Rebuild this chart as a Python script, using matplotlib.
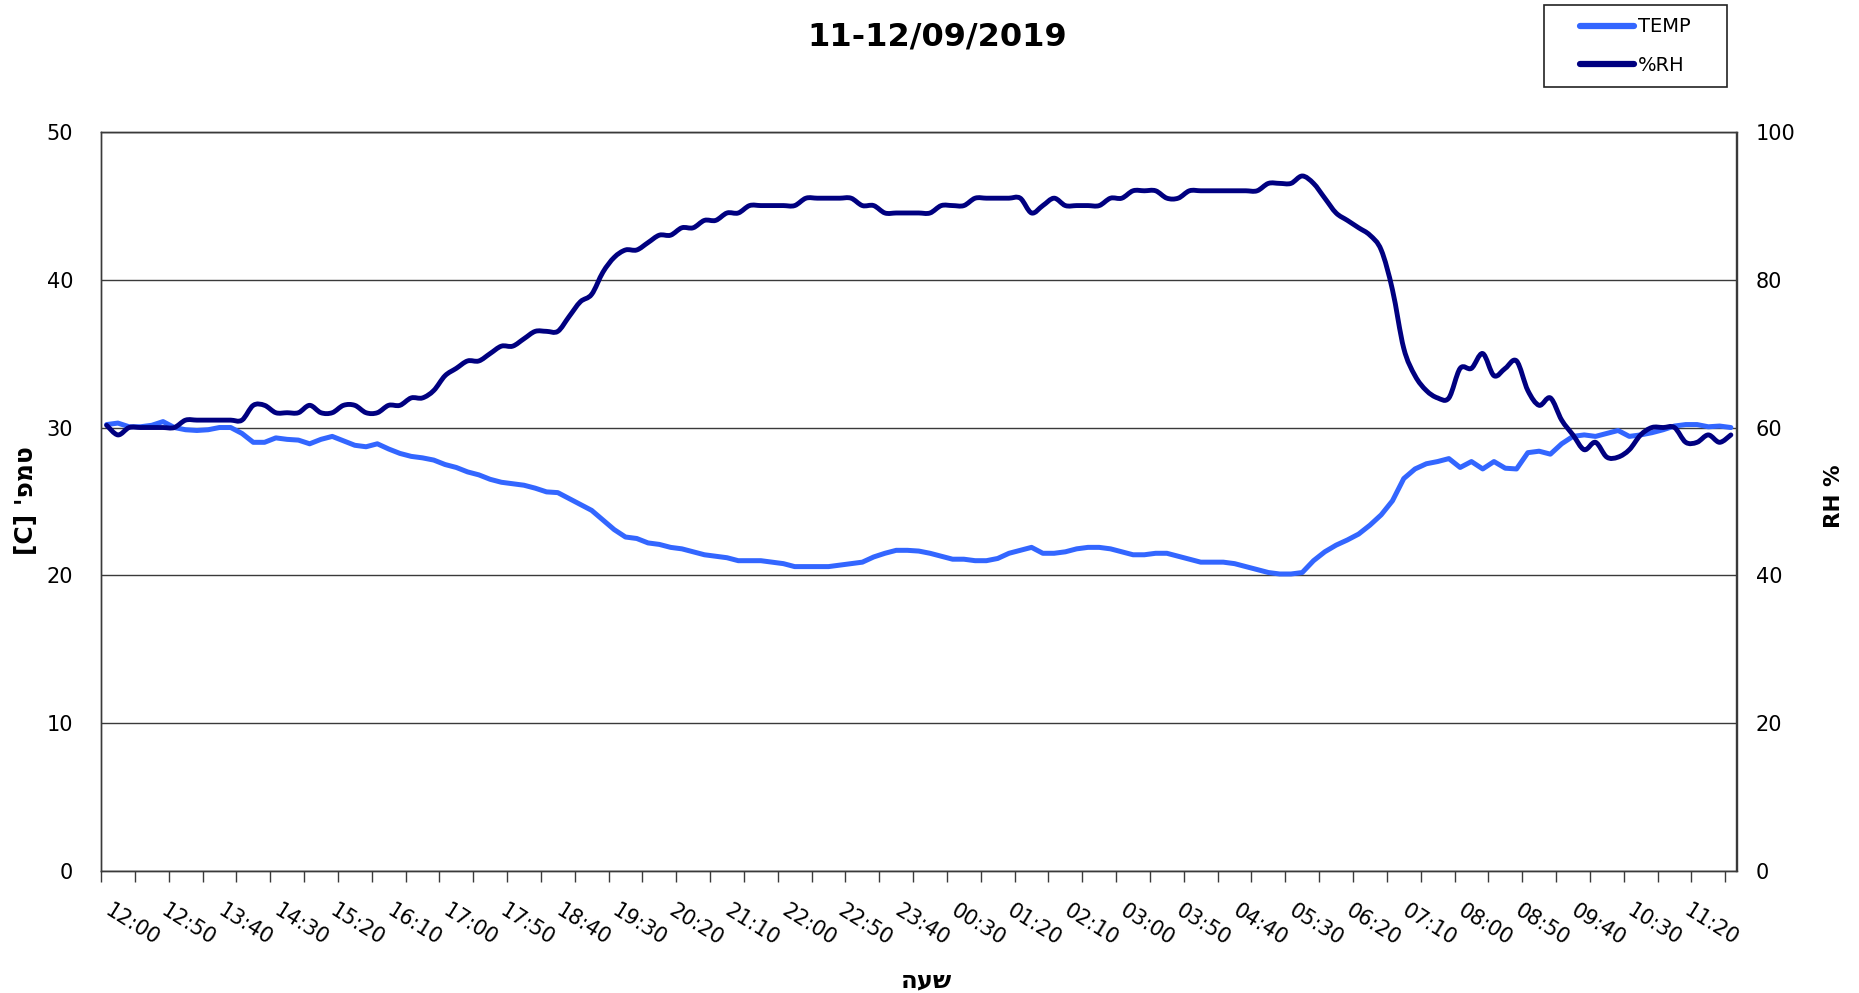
import numpy as np
import matplotlib
matplotlib.use("Agg")
import matplotlib.pyplot as plt
from matplotlib.path import Path
from matplotlib.patches import PathPatch, Rectangle
from matplotlib.lines import Line2D

plt.rcParams['font.family'] = ['DejaVu Sans']

# ---------------- data (10-minute readings, 11/09 12:00 -> 12/09 12:00) ----------------
start_minutes = 12 * 60
step_minutes = 10
n_points = 145
times = [f"{((start_minutes + step_minutes * i) // 60) % 24:02d}:{(start_minutes + step_minutes * i) % 60:02d}"
         for i in range(n_points)]

temp = [30.2, 30.3, 30.05, 30.05, 30.15, 30.4, 30.0, 29.85, 29.8, 29.85,
        30.0, 30.0, 29.6, 29.0, 29.0, 29.3, 29.2, 29.15, 28.9, 29.2,
        29.4, 29.1, 28.8, 28.7, 28.9, 28.55, 28.25, 28.05, 27.95, 27.8,
        27.5, 27.3, 27.0, 26.8, 26.5, 26.3, 26.2,
        26.1, 25.9, 25.65, 25.6, 25.2, 24.8, 24.4, 23.75, 23.1, 22.6,
        22.5, 22.2, 22.1, 21.9, 21.8, 21.6, 21.4, 21.3, 21.2, 21.0,
        21.0, 21.0, 20.9, 20.8, 20.6, 20.6, 20.6, 20.6, 20.7, 20.8,
        20.9, 21.25, 21.5, 21.7, 21.7, 21.65,
        21.5, 21.3, 21.1, 21.1, 21.0, 21.0, 21.15, 21.5, 21.7, 21.9,
        21.5, 21.5, 21.6, 21.8, 21.9, 21.9, 21.8, 21.6, 21.4, 21.4,
        21.5, 21.5, 21.3, 21.1, 20.9, 20.9, 20.9, 20.8, 20.6, 20.4,
        20.2, 20.1, 20.1, 20.2, 21.0,
        21.6, 22.05, 22.4, 22.8, 23.4, 24.1, 25.05, 26.55, 27.2, 27.55,
        27.7, 27.9, 27.3, 27.7, 27.2, 27.7, 27.25, 27.2, 28.3, 28.4,
        28.2, 28.9, 29.4, 29.5, 29.4, 29.6, 29.8, 29.4, 29.5, 29.65,
        29.85, 30.1, 30.2, 30.2, 30.05, 30.1, 30.0]

rh = [60.3, 59, 60, 60, 60, 60, 60, 61, 61, 61,
      61, 61, 61, 63, 63, 62, 62, 62, 63, 62,
      62, 63, 63, 62, 62, 63, 63, 64, 64, 65,
      67, 68, 69, 69, 70, 71, 71,
      72, 73, 73, 73, 75, 77, 78, 81, 83, 84,
      84, 85, 86, 86, 87, 87, 88, 88, 89, 89,
      90, 90, 90, 90, 90, 91, 91, 91, 91, 91,
      90, 90, 89, 89, 89, 89,
      89, 90, 90, 90, 91, 91, 91, 91, 91, 89,
      90, 91, 90, 90, 90, 90, 91, 91, 92, 92,
      92, 91, 91, 92, 92, 92, 92, 92, 92, 92,
      93, 93, 93, 94, 93,
      91, 89, 88, 87, 86, 84, 78.6, 70.7, 67, 65,
      64, 64, 68, 68, 70, 67, 68, 69, 65, 63,
      64, 61, 59, 57, 58, 56, 56, 57, 59, 60,
      60, 60, 58, 58, 59, 58, 59]

title = "11-12/09/2019"
temp_label = "TEMP"
rh_label = "%RH"
y_left_label = "[C] 'פמט"      # "טמפ' [C]" in visual (left-to-right) order
y_right_label = "RH %"
x_label = "העש"                # "שעה" in visual order

temp_ticks = [0, 10, 20, 30, 40, 50]
rh_ticks = [0, 20, 40, 60, 80, 100]

TEMP_COLOR = "#3366FF"
RH_COLOR = "#000080"
GRID_COLOR = "#3a3a3a"

# ---------------- figure ----------------
W, H = 1859, 993
fig = plt.figure(figsize=(W / 100, H / 100), dpi=100)
ax = fig.add_axes([101 / W, 1 - 871.4 / H, 1635.5 / W, 739.8 / H])
ax2 = ax.twinx()

x = np.arange(len(temp))
ax.plot(x, temp, color=TEMP_COLOR, lw=3.6, solid_joinstyle='round',
        solid_capstyle='round', zorder=3)

# smoothed RH line (cubic Bezier through every reading, like a spreadsheet "smoothed line")
xr = np.arange(len(rh), dtype=float)
yr = np.asarray(rh, dtype=float)
verts = [(xr[0], yr[0])]
codes = [Path.MOVETO]
n = len(xr)
for i in range(n - 1):
    p0 = i - 1 if i > 0 else 0
    p3 = i + 2 if i + 2 < n else n - 1
    c1 = (xr[i] + (xr[i + 1] - xr[p0]) / 6, yr[i] + (yr[i + 1] - yr[p0]) / 6)
    c2 = (xr[i + 1] - (xr[p3] - xr[i]) / 6, yr[i + 1] - (yr[p3] - yr[i]) / 6)
    verts += [c1, c2, (xr[i + 1], yr[i + 1])]
    codes += [Path.CURVE4, Path.CURVE4, Path.CURVE4]
ax2.add_patch(PathPatch(Path(verts, codes), fill=False, edgecolor=RH_COLOR,
                        lw=3.5, joinstyle='round', capstyle='round', zorder=3))

ax.set_xlim(-0.5, n_points - 0.5)
ax.set_ylim(0, 50)
ax2.set_ylim(0, 100)

ax.set_yticks(temp_ticks)
ax2.set_yticks(rh_ticks)
ax.tick_params(axis='y', length=0, pad=20, labelsize=15)
ax2.tick_params(axis='y', length=0, pad=14, labelsize=15)
ax.grid(axis='y', color=GRID_COLOR, lw=1.0)
ax.set_axisbelow(True)

label_idx = list(range(0, n_points, 5))
ax.set_xticks(label_idx, [times[i] for i in label_idx], rotation=-32, ha='left',
              va='center', rotation_mode='anchor')
ax.set_xticks(np.arange(-0.5, n_points - 0.5, 3), minor=True)
ax.tick_params(axis='x', which='major', length=0, pad=27, labelsize=15)
ax.tick_params(axis='x', which='minor', length=8, width=1.0, color=GRID_COLOR, direction='out')

for a in (ax, ax2):
    for s in a.spines.values():
        s.set_color(GRID_COLOR)
        s.set_linewidth(1.0)

# titles / axis labels
fig.text(937 / W, 1 - 37 / H, title, ha='center', va='center', fontsize=23, fontweight='bold')
fig.text(26 / W, 1 - 501 / H, y_left_label, rotation=90, ha='center', va='center',
         fontsize=18, fontweight='bold')
fig.text(1834 / W, 1 - 496 / H, y_right_label, rotation=90, ha='center', va='center',
         fontsize=15.5, fontweight='bold')
fig.text(926 / W, 1 - 980 / H, x_label, ha='center', va='center', fontsize=17.5, fontweight='bold')

# legend
handles = [Line2D([], [], color=TEMP_COLOR, lw=4.5, solid_capstyle='round'),
           Line2D([], [], color=RH_COLOR, lw=4.5, solid_capstyle='round')]
fig.legend(handles, [temp_label, rh_label], loc='upper left',
           bbox_to_anchor=(1580 / W, 1 - 17.5 / H), frameon=False, fontsize=14,
           handlelength=2.8, handletextpad=0.2, labelspacing=1.0, borderpad=0,
           borderaxespad=0)
fig.add_artist(Rectangle((1544 / W, 1 - 87 / H), 183 / W, 82 / H, transform=fig.transFigure,
                         fill=False, edgecolor='#222222', lw=1.2))

fig.savefig("out.png", dpi=100)
